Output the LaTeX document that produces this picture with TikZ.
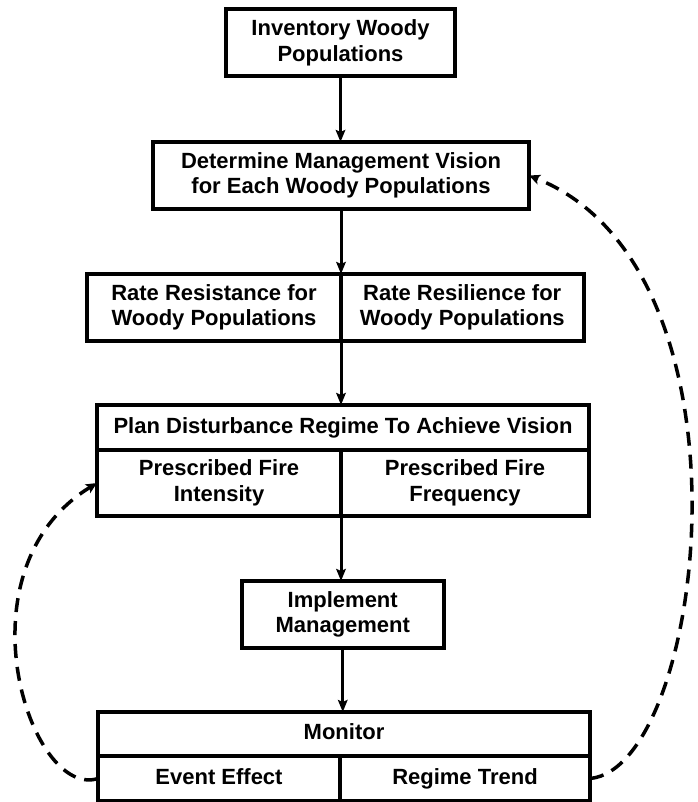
\documentclass[tikz,border=0pt]{standalone}
\usepackage{fontspec}
\setmainfont{Liberation Sans}
\usetikzlibrary{arrows.meta}
\begin{document}
\begin{tikzpicture}[x=1pt,y=1pt,
  box/.style={draw, line width=4pt, rectangle, inner sep=0pt, outer sep=0pt,
    align=center, font=\fontsize{22}{25.5}\selectfont\bfseries},
  oneline/.style={text height=16pt, text depth=5pt},
  flow/.style={line width=3pt, -{Stealth[length=12pt,width=9.5pt,inset=2pt]}},
  loop/.style={line width=3.5pt, dash pattern=on 14pt off 9pt,
    -{Stealth[length=11pt,width=10pt,inset=2.5pt]}}]
\useasboundingbox (0,0) rectangle (697,-802);

% main steps
\node[box, minimum width=229pt, minimum height=67pt] (inv) at (340.5,-43)
  {Inventory Woody\\Populations};
\node[box, minimum width=376pt, minimum height=67pt] (vision) at (341,-175.5)
  {Determine Management Vision\\for Each Woody Populations};

\node[box, minimum width=254pt, minimum height=66.5pt] (rateL) at (214,-307.25)
  {Rate Resistance for\\Woody Populations};
\node[box, minimum width=242.5pt, minimum height=66.5pt] (rateR) at (462.25,-307.25)
  {Rate Resilience for\\Woody Populations};

\node[box, oneline, minimum width=492pt, minimum height=45pt] (planH) at (343,-427.5)
  {Plan Disturbance Regime To Achieve Vision};
\node[box, minimum width=244pt, minimum height=66pt] (planL) at (219,-483)
  {Prescribed Fire\\Intensity};
\node[box, minimum width=248pt, minimum height=66pt] (planR) at (465,-483)
  {Prescribed Fire\\Frequency};

\node[box, minimum width=201.5pt, minimum height=67pt] (impl) at (342.75,-614.5)
  {Implement\\Management};

\node[box, oneline, minimum width=492pt, minimum height=44pt] (monH) at (344,-734)
  {Monitor};
\node[box, oneline, minimum width=242pt, minimum height=45pt] (monL) at (219,-778.5)
  {Event Effect};
\node[box, oneline, minimum width=250pt, minimum height=45pt] (monR) at (465,-778.5)
  {Regime Trend};

% flow arrows
\draw[flow] (inv.south) -- (inv.south |- vision.north);
\draw[flow] (vision.south) -- (vision.south |- rateL.north);
\draw[flow] (rateL.south east) -- (rateL.south east |- planH.north);
\draw[flow] (planL.south east) -- (planL.south east |- impl.north);
\draw[flow] (impl.south) -- (impl.south |- monH.north);

% feedback loops
\draw[loop] (monL.west) .. controls (30,-800) and (-45,-570) .. (planL.west);
\draw[loop] (monR.east) .. controls (705,-768) and (765,-270) .. (vision.east);
\end{tikzpicture}
\end{document}
